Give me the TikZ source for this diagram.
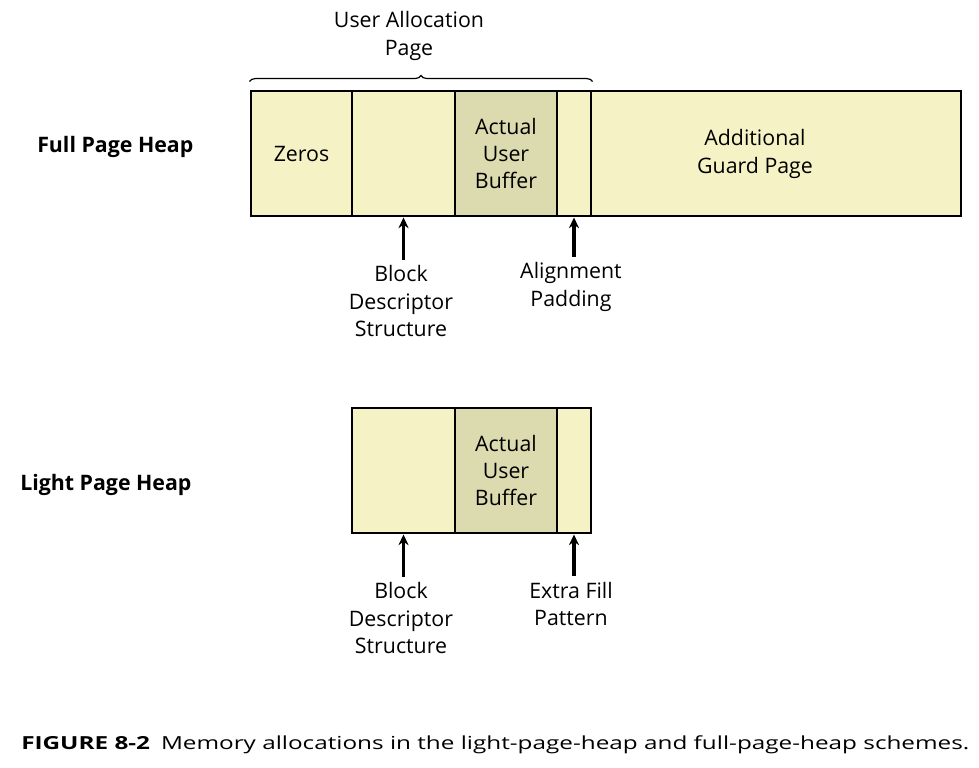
\documentclass[tikz,border=0pt]{standalone}
\usepackage{fontspec}
\setmainfont{Open Sans}
\usetikzlibrary{decorations.pathreplacing,arrows.meta}
\definecolor{cellpale}{HTML}{F5F3C6}
\definecolor{celldark}{HTML}{DCDAAF}
\newcommand{\txtsize}{\fontsize{16}{20.6}\selectfont}
\tikzset{
  cell/.style={draw,line width=2.2pt,fill=cellpale,minimum height=93.75pt,inner sep=0pt,align=center,font=\txtsize},
  buf/.style={cell,fill=celldark},
  txt/.style={align=center,font=\txtsize,inner sep=0pt},
  heap/.style={anchor=west,font=\txtsize\bfseries,inner sep=0pt},
  arr/.style={{Stealth[length=8pt,width=7.5pt]}-,line width=2.4pt}
}
\begin{document}
\begin{tikzpicture}[x=0.75pt,y=-0.75pt]
\useasboundingbox[fill=white](0,0)rectangle(979,768);
% full page heap
\node[heap](fullname)at(37,147){Full Page Heap};
\node[cell,minimum width=75.75pt](zeros)at(301.5,153.5){Zeros};
\node[cell,minimum width=77.25pt](blkF)at(403.5,153.5){};
\node[buf,minimum width=76.5pt](bufF)at(506,153.5){Actual\\User\\Buffer};
\node[cell,minimum width=25.5pt](padF)at(574,153.5){};
\node[cell,minimum width=277.5pt](guard)at(776,153.5){};
\node[txt](guardtxt)at(755,154){Additional\\Guard Page};
\draw[decorate,decoration={brace,amplitude=4.5pt},line width=0.9pt]([yshift=6pt]zeros.north west)--([yshift=6pt]padF.north east);
\node[txt](alloc)at(409,36){User Allocation\\Page};
\node[txt](blkFlbl)at(401,301){Block\\Descriptor\\Structure};
\node[txt](padFlbl)at(571,287){Alignment\\Padding};
\draw[arr](blkF.south)--([yshift=4pt]blkF.south|-blkFlbl.north);
\draw[arr](padF.south)--([yshift=4pt]padF.south|-padFlbl.north);
% light page heap
\node[heap](lightname)at(20,485){Light Page Heap};
\node[cell,minimum width=77.25pt](blkL)at(403.5,470.5){};
\node[buf,minimum width=76.5pt](bufL)at(506,470.5){Actual\\User\\Buffer};
\node[cell,minimum width=25.5pt](padL)at(574,470.5){};
\node[txt](blkLlbl)at(401,618){Block\\Descriptor\\Structure};
\node[txt](padLlbl)at(571,604){Extra Fill\\Pattern};
\draw[arr](blkL.south)--([yshift=4pt]blkL.south|-blkLlbl.north);
\draw[arr](padL.south)--([yshift=4pt]padL.south|-padLlbl.north);
% caption
\node[anchor=west,inner sep=0pt,font=\fontsize{13.5}{16}\selectfont](caption)at(21,745){\resizebox{711pt}{\height}{\textbf{FIGURE 8-2}\hspace{0.45em}Memory allocations in the light-page-heap and full-page-heap schemes.}};
\end{tikzpicture}
\end{document}
